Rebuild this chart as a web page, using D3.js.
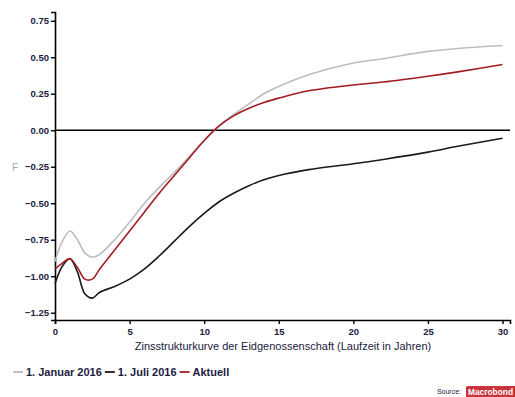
<!DOCTYPE html>
<html>
<head>
<meta charset="utf-8">
<script src="https://cdn.jsdelivr.net/npm/d3@7"></script>
<style>
  body { margin: 0; background: #fff; }
  svg { font-family: "Liberation Sans", Arial, sans-serif; }
</style>
</head>
<body>
<div id="chart"></div>
<script>
// Laufzeit in Jahren
var maturities = [0, 0.5, 1, 1.5, 2, 2.5, 3, 4, 5, 6, 7, 8, 9, 10, 11, 12, 13, 14, 15, 17, 20, 22, 25, 27, 30];

// 1. Januar 2016
var jan2016 = [-0.90, -0.76, -0.69, -0.75, -0.84, -0.87, -0.85, -0.75, -0.63, -0.50, -0.39, -0.29, -0.18, -0.07, 0.03, 0.11, 0.18, 0.25, 0.30, 0.38, 0.46, 0.49, 0.54, 0.56, 0.58];
// 1. Juli 2016
var jul2016 = [-1.05, -0.93, -0.88, -0.97, -1.12, -1.15, -1.11, -1.07, -1.02, -0.95, -0.86, -0.76, -0.66, -0.57, -0.49, -0.43, -0.38, -0.34, -0.31, -0.27, -0.23, -0.20, -0.15, -0.11, -0.055];
// Aktuell
var aktuell = [-0.95, -0.91, -0.88, -0.94, -1.02, -1.02, -0.95, -0.82, -0.69, -0.56, -0.43, -0.31, -0.19, -0.07, 0.03, 0.10, 0.15, 0.19, 0.22, 0.27, 0.31, 0.33, 0.37, 0.40, 0.45];

var yTicks = [0.75, 0.50, 0.25, 0.00, -0.25, -0.50, -0.75, -1.00, -1.25];
var xTicks = [0, 5, 10, 15, 20, 25, 30];

var seriesNames = ["1. Januar 2016", "1. Juli 2016", "Aktuell"];
var seriesColors = ["#bdbdbd", "#1a1a1a", "#a11d22"];
var seriesValues = [jan2016, jul2016, aktuell];

var width = 515, height = 397;
var svg = d3.select("#chart").append("svg")
    .attr("width", width)
    .attr("height", height);

var x = d3.scaleLinear().domain([0, 30.5]).range([55, 510]);
var y = d3.scaleLinear().domain([-1.30, 0.81]).range([320, 12]);

// y axis
var yAxis = svg.append("g")
    .attr("transform", "translate(55,0)")
    .call(d3.axisLeft(y).tickValues(yTicks).tickFormat(d3.format(".2f")).tickSizeOuter(0).tickSize(4));
yAxis.select(".domain").attr("stroke", "#000").attr("stroke-width", 1.6);
yAxis.selectAll(".tick line").attr("stroke", "#000").attr("stroke-width", 1.4);
yAxis.selectAll(".tick text")
    .attr("x", -6)
    .style("font-size", "9.5px")
    .style("font-weight", "bold")
    .attr("fill", "#1b2140");

// x axis
var xAxis = svg.append("g")
    .attr("transform", "translate(0,320)")
    .call(d3.axisBottom(x).tickValues(xTicks).tickSizeOuter(0).tickSize(4));
xAxis.select(".domain").attr("stroke", "#000").attr("stroke-width", 1.6);
xAxis.selectAll(".tick line").attr("stroke", "#000").attr("stroke-width", 1.4);
xAxis.selectAll(".tick text")
    .attr("y", 8)
    .style("font-size", "9.5px")
    .style("font-weight", "bold")
    .attr("fill", "#1b2140");

// zero line
svg.append("line")
    .attr("x1", x(0)).attr("x2", x(30.5))
    .attr("y1", y(0)).attr("y2", y(0))
    .attr("stroke", "#000")
    .attr("stroke-width", 1.5);

// small grey mark left of -0.25
svg.append("text")
    .attr("x", 12).attr("y", y(-0.25) + 4)
    .style("font-size", "10px")
    .attr("fill", "#aaa")
    .text("F");

var line = d3.line()
    .x(function (d) { return x(d[0]); })
    .y(function (d) { return y(d[1]); })
    .curve(d3.curveCatmullRom.alpha(0.5));

seriesValues.forEach(function (vals, i) {
    svg.append("path")
        .datum(maturities.map(function (m, j) { return [m, vals[j]]; }))
        .attr("fill", "none")
        .attr("stroke", seriesColors[i])
        .attr("stroke-width", 1.6)
        .attr("d", line);
});

// axis title
svg.append("text")
    .attr("x", 283).attr("y", 350)
    .attr("text-anchor", "middle")
    .style("font-size", "11px")
    .attr("fill", "#1b2140")
    .text("Zinsstrukturkurve der Eidgenossenschaft (Laufzeit in Jahren)");

// legend
var lx = 13;
seriesNames.forEach(function (name, i) {
    svg.append("line")
        .attr("x1", lx).attr("x2", lx + 10)
        .attr("y1", 372).attr("y2", 372)
        .attr("stroke", seriesColors[i])
        .attr("stroke-width", 1.8);
    var t = svg.append("text")
        .attr("x", lx + 13).attr("y", 376)
        .style("font-size", "11px")
        .style("font-weight", "bold")
        .attr("fill", "#1b2140")
        .text(name);
    lx += 13 + t.node().getComputedTextLength() + 3;
});

// source
svg.append("text")
    .attr("x", 461).attr("y", 394)
    .attr("text-anchor", "end")
    .style("font-size", "7px")
    .attr("fill", "#1b2140")
    .text("Source:");
svg.append("rect")
    .attr("x", 466).attr("y", 386)
    .attr("width", 52).attr("height", 12)
    .attr("rx", 1.5)
    .attr("fill", "#c9333a");
svg.append("text")
    .attr("x", 468).attr("y", 395)
    .attr("textLength", 45)
    .attr("lengthAdjust", "spacingAndGlyphs")
    .style("font-size", "9px")
    .style("font-weight", "bold")
    .attr("fill", "#fff")
    .text("Macrobond");
</script>
</body>
</html>
